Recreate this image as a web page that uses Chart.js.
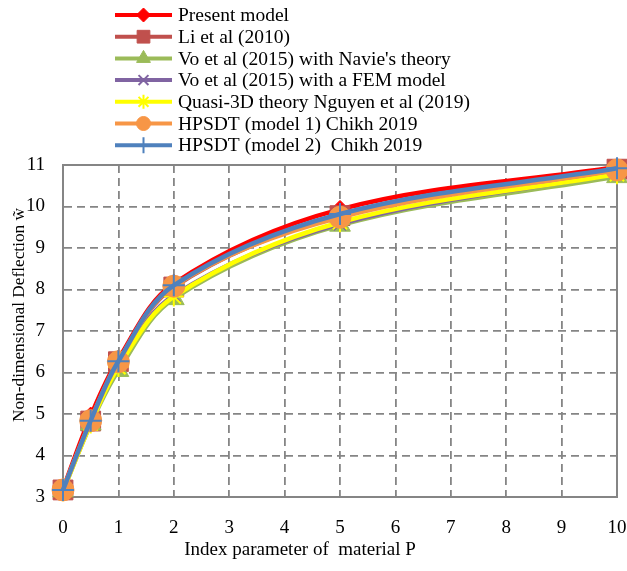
<!DOCTYPE html>
<html lang="en">
<head>
<meta charset="UTF-8">
<title>Non-dimensional deflection vs P</title>
<script src="https://cdn.jsdelivr.net/npm/chart.js"></script>
<style>
    body { margin: 0; background: #fff; }
    #wrap { width: 627px; height: 571px; }
</style>
</head>
<body>
<div id="wrap"><canvas id="deflChart" width="627" height="571"></canvas></div>
<script>
    // index parameter P (x values)
    const pValues = [0, 0.5, 1, 2, 5, 10];

    const seriesNames = [
        'Present model',
        'Li et al (2010)',
        "Vo et al (2015) with Navie's theory",
        'Vo et al (2015) with a FEM model',
        'Quasi-3D theory Nguyen et al (2019)',
        'HPSDT (model 1) Chikh 2019',
        'HPSDT (model 2)  Chikh 2019'
    ];

    const presentModel = [3.19, 4.95, 6.32, 8.14, 9.93, 10.95];
    const liEtAl = [3.17, 4.83, 6.26, 8.06, 9.78, 10.90];
    const voNavier = [3.15, 4.76, 6.05, 7.78, 9.55, 10.72];
    const voFem = [3.16, 4.80, 6.18, 7.86, 9.58, 10.80];
    const quasi3d = [3.14, 4.77, 6.13, 7.83, 9.62, 10.78];
    const hpsdt1 = [3.17, 4.84, 6.26, 8.08, 9.74, 10.88];
    const hpsdt2 = [3.17, 4.84, 6.27, 8.10, 9.82, 10.92];

    const yTicks = [3, 4, 5, 6, 7, 8, 9, 10, 11];
    const xTicks = [0, 1, 2, 3, 4, 5, 6, 7, 8, 9, 10];

    const xTitle = 'Index parameter of  material P';
    const yTitle = 'Non-dimensional Deflection w\u0303';

    const serif = '"Liberation Serif", "Times New Roman", serif';

    function series(i, values, color, style, r, legendR, bw, order) {
        return {
            label: seriesNames[i],
            data: pValues.map((p, k) => ({ x: p, y: values[k] })),
            borderColor: color,
            backgroundColor: color,
            borderWidth: 4.5,
            pointStyle: style,
            pointRadius: r,
            pointHoverRadius: r,
            pointBackgroundColor: color,
            pointBorderColor: color,
            pointBorderWidth: bw,
            legendRadius: legendR,
            tension: 0.35,
            clip: false,
            order: order
        };
    }

    // legend drawn as line + marker, one entry per row
    const rowLegend = {
        id: 'rowLegend',
        afterDraw(chart) {
            const ctx = chart.ctx;
            chart.data.datasets.forEach((ds, i) => {
                const y = 15 + i * 21.7;
                ctx.save();
                ctx.strokeStyle = ds.borderColor;
                ctx.lineWidth = 4;
                ctx.beginPath();
                ctx.moveTo(115, y);
                ctx.lineTo(172, y);
                ctx.stroke();
                ctx.fillStyle = ds.pointBackgroundColor;
                ctx.strokeStyle = ds.pointBorderColor;
                ctx.lineWidth = ds.pointBorderWidth;
                Chart.helpers.drawPoint(ctx, {
                    pointStyle: ds.pointStyle,
                    radius: ds.legendRadius,
                    rotation: 0,
                    borderWidth: ds.pointBorderWidth
                }, 143.5, y);
                ctx.fillStyle = '#000';
                ctx.font = '19.5px ' + serif;
                ctx.textAlign = 'left';
                ctx.textBaseline = 'middle';
                ctx.fillText(ds.label, 178, y + 1);
                ctx.restore();
            });
        }
    };

    // solid frame around plot area + axis titles (off-centre like the original)
    const plotFrame = {
        id: 'plotFrame',
        beforeDatasetsDraw(chart) {
            const a = chart.chartArea;
            const ctx = chart.ctx;
            ctx.save();
            ctx.strokeStyle = '#858585';
            ctx.lineWidth = 2;
            ctx.strokeRect(a.left, a.top, a.right - a.left, a.bottom - a.top);
            ctx.restore();
        },
        afterDraw(chart) {
            const ctx = chart.ctx;
            ctx.save();
            ctx.fillStyle = '#000';
            ctx.textAlign = 'center';
            ctx.textBaseline = 'middle';
            ctx.font = '19px ' + serif;
            ctx.fillText(xTitle, 300, 550);
            ctx.translate(19, 315);
            ctx.rotate(-Math.PI / 2);
            ctx.font = '17.3px ' + serif;
            ctx.fillText(yTitle, 0, 0);
            ctx.restore();
        }
    };

    const gridOpts = { color: '#858585', lineWidth: 1.8, drawTicks: false, borderDash: [8, 5] };
    const borderOpts = { display: true, color: '#858585', width: 2, dash: [8, 5] };

    const ctx = document.getElementById('deflChart').getContext('2d');
    new Chart(ctx, {
        type: 'line',
        data: {
            datasets: [
                series(0, presentModel, '#FF0000', 'rectRot', 9, 7, 1, 7),
                series(1, liEtAl, '#C0504D', 'rect', 14, 9, 1, 6),
                series(2, voNavier, '#9BBB59', 'triangle', 12, 8, 1, 5),
                series(3, voFem, '#8064A2', 'crossRot', 9, 7, 2, 4),
                series(4, quasi3d, '#FFFF00', 'star', 10, 7, 2, 3),
                series(5, hpsdt1, '#F79646', 'circle', 11, 7, 1, 2),
                series(6, hpsdt2, '#4F81BD', 'cross', 11, 8, 2, 1)
            ]
        },
        options: {
            responsive: false,
            animation: false,
            layout: { autoPadding: false, padding: { top: 165, right: 10, left: 0, bottom: 0 } },
            plugins: {
                legend: { display: false },
                tooltip: { enabled: false }
            },
            scales: {
                x: {
                    type: 'linear',
                    min: 0,
                    max: 10,
                    afterBuildTicks: s => { s.ticks = xTicks.map(v => ({ value: v })); },
                    afterFit: s => { s.height = 74; s.paddingLeft = 0; s.paddingRight = 0; },
                    grid: gridOpts,
                    border: borderOpts,
                    ticks: { color: '#000', font: { family: serif, size: 19 }, padding: 20 },
                    title: { display: false, text: xTitle }
                },
                y: {
                    min: 3,
                    max: 11,
                    afterBuildTicks: s => { s.ticks = yTicks.map(v => ({ value: v })); },
                    afterFit: s => { s.width = 63; },
                    grid: gridOpts,
                    border: borderOpts,
                    ticks: { color: '#000', font: { family: serif, size: 19 }, padding: 18 },
                    title: { display: false, text: yTitle }
                }
            }
        },
        plugins: [plotFrame, rowLegend]
    });
</script>
</body>
</html>
